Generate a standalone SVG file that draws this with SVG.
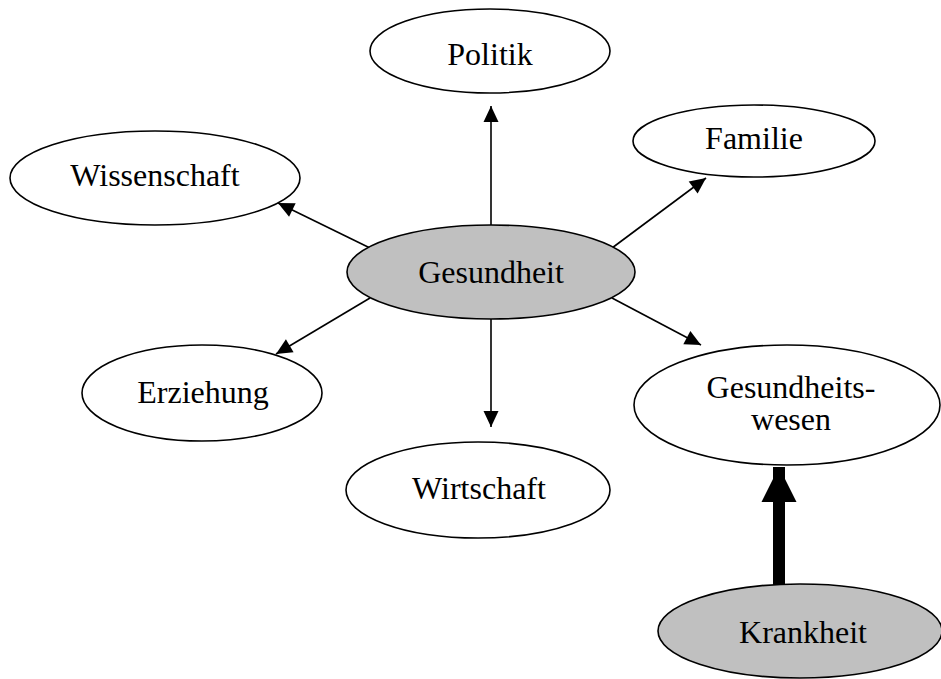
<svg xmlns="http://www.w3.org/2000/svg" width="941" height="679" viewBox="0 0 941 679">
<defs>
<style>
.n{stroke:#000;stroke-width:1.6;fill:#fff}
.g{fill:#c0c0c0}
.t{font-family:"Liberation Serif","Times New Roman",serif;font-size:32px;fill:#000;text-anchor:middle}
.c{stroke:#000;stroke-width:1.6;fill:none}
</style>
<marker id="ah" markerUnits="userSpaceOnUse" markerWidth="17" markerHeight="16" refX="16" refY="7.5" orient="auto" overflow="visible">
<path d="M0,0 L16,7.5 L0,15 Z" fill="#000"/>
</marker>
<marker id="big" markerUnits="userSpaceOnUse" markerWidth="36" markerHeight="36" refX="35" refY="17.5" orient="auto" overflow="visible">
<path d="M0,0 L35,17.5 L0,35 Z" fill="#000"/>
</marker>
</defs>
<rect width="941" height="679" fill="#fff"/>
<g id="connectors">
<line class="c" x1="491" y1="226" x2="491" y2="106" marker-end="url(#ah)"/>
<line class="c" x1="491" y1="319" x2="491" y2="427" marker-end="url(#ah)"/>
<line class="c" x1="370" y1="248" x2="278" y2="203" marker-end="url(#ah)"/>
<line class="c" x1="370" y1="298" x2="276" y2="354" marker-end="url(#ah)"/>
<line class="c" x1="612" y1="248" x2="706" y2="178" marker-end="url(#ah)"/>
<line class="c" x1="612" y1="298" x2="701" y2="345" marker-end="url(#ah)"/>
<line x1="779" y1="587" x2="779" y2="467" stroke="#000" stroke-width="12" marker-end="url(#big)"/>
</g>
<g id="politik">
<ellipse class="n" cx="490" cy="51" rx="120" ry="42"/>
<text class="t" x="490" y="65">Politik</text>
</g>
<g id="familie">
<ellipse class="n" cx="754" cy="141" rx="121" ry="36"/>
<text class="t" x="754" y="149">Familie</text>
</g>
<g id="wissenschaft">
<ellipse class="n" cx="155" cy="178" rx="145" ry="47"/>
<text class="t" x="155" y="186">Wissenschaft</text>
</g>
<g id="gesundheit">
<ellipse class="n g" cx="491" cy="272" rx="144" ry="47"/>
<text class="t" x="491" y="283">Gesundheit</text>
</g>
<g id="erziehung">
<ellipse class="n" cx="202" cy="393" rx="120" ry="48"/>
<text class="t" x="203" y="403">Erziehung</text>
</g>
<g id="wirtschaft">
<ellipse class="n" cx="478" cy="490" rx="132" ry="48"/>
<text class="t" x="479" y="499">Wirtschaft</text>
</g>
<g id="gesundheitswesen">
<ellipse class="n" cx="787" cy="405" rx="153" ry="60"/>
<text class="t" x="791" y="398">Gesundheits-</text>
<text class="t" x="791" y="430">wesen</text>
</g>
<g id="krankheit">
<ellipse class="n g" cx="800" cy="631" rx="142" ry="47"/>
<text class="t" x="803" y="643">Krankheit</text>
</g>
</svg>
